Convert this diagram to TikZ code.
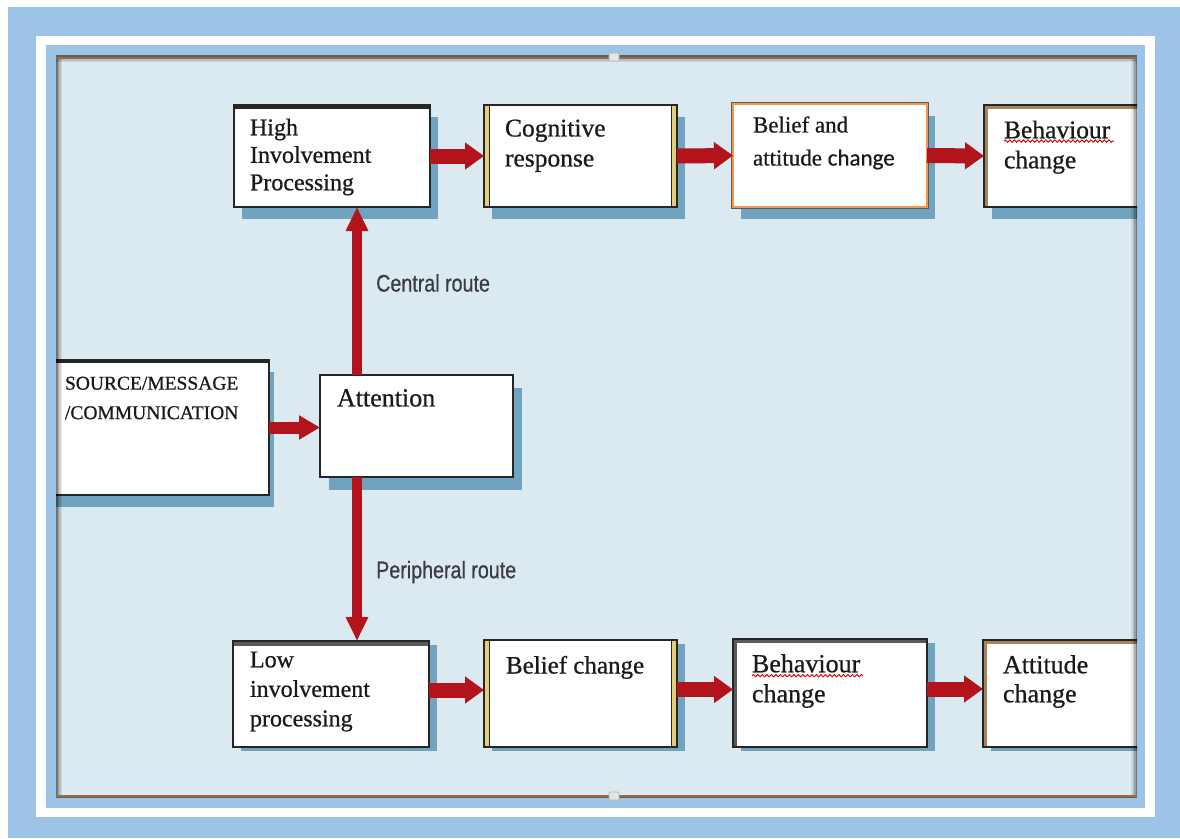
\documentclass[tikz,border=0pt]{standalone}
\usepackage{fontspec}
\setmainfont{Liberation Serif}[FakeBold=0.7]
\newfontfamily\carlitofont{Carlito}[FakeBold=0.5]
\newfontfamily\arialfont{Liberation Sans}[FakeBold=0.6]
\usetikzlibrary{calc,arrows.meta,decorations.pathmorphing,shadows}
\definecolor{outerblue}{HTML}{9DC3E6}
\definecolor{panelc}{HTML}{DBE9F1}
\definecolor{shadowc}{HTML}{6FA3BF}
\definecolor{arrowred}{HTML}{B3131B}
\definecolor{boxline}{HTML}{262626}
\definecolor{goldc}{HTML}{E3CF78}
\definecolor{tanc}{HTML}{A8845E}
\definecolor{greyband}{HTML}{5A5A5A}
\definecolor{orangec}{HTML}{F79646}
\definecolor{edgebrown}{HTML}{9A6A3E}
\definecolor{edgegrey}{HTML}{5E5E5E}
\definecolor{labelc}{HTML}{3C3C3C}
\definecolor{textc}{HTML}{1A1A1A}
\newcommand\bandTL[3]{%
  \fill[#2] ($(#1.north west)+(1.2,1.2)$) rectangle ($(#1.north east)+(-1.2,1.2+#3)$);
  \fill[#2] ($(#1.north west)+(1.2,1.2)$) rectangle ($(#1.south west)+(1.2+#3,-1.2)$);}
\newcommand\bandT[3]{%
  \fill[#2] ($(#1.north west)+(1.2,1.2)$) rectangle ($(#1.north east)+(-1.2,1.2+#3)$);}
\newcommand\goldLR[1]{%
  \fill[goldc] ($(#1.north west)+(1.2,1.2)$) rectangle ($(#1.south west)+(4.8,-1.2)$);
  \draw[boxline,line width=0.8pt] ($(#1.north west)+(5.2,1.2)$) -- ($(#1.south west)+(5.2,-1.2)$);
  \fill[goldc] ($(#1.north east)+(-1.2,1.2)$) rectangle ($(#1.south east)+(-4.8,-1.2)$);
  \draw[boxline,line width=0.8pt] ($(#1.north east)+(-5.2,1.2)$) -- ($(#1.south east)+(-5.2,-1.2)$);}
\tikzset{
  box/.style={draw=boxline, line width=2.6pt, fill=white, inner sep=0pt, outer sep=0pt},
  shtop/.style={general shadow={fill=shadowc, shadow xshift=8pt, shadow yshift=-12pt}},
  shbot/.style={general shadow={fill=shadowc, shadow xshift=8pt, shadow yshift=-4pt}},
  txt/.style={anchor=north west, inner sep=0pt, outer sep=0pt, align=left, text=textc},
  routelbl/.style={anchor=west, inner sep=0pt, text=labelc, font=\arialfont\fontsize{24}{24}\selectfont},
  harrow/.style={draw=arrowred, line width=15pt, -{Triangle[length=19pt 0 0, width=26pt 0 0]}},
  sarrow/.style={draw=arrowred, line width=12pt, -{Triangle[length=21pt 0 0, width=23pt 0 0]}},
  varrow/.style={draw=arrowred, line width=10pt, -{Triangle[length=24pt 0 0, width=21pt 0 0]}},
  squig/.style={draw=red!85!black, line width=0.9pt, decorate, decoration={snake, amplitude=1.2pt, segment length=4.5pt}},
}
\begin{document}
\begin{tikzpicture}[x=1pt,y=-1pt]
\useasboundingbox (0,0) rectangle (1180,838);
% frame
\fill[white] (0,0) rectangle (1180,838);
\fill[outerblue] (8,7) rectangle (1180,838);
\fill[white] (36,36) rectangle (1155,817);
\fill[outerblue] (46,45) rectangle (1145,808);
\fill[panelc] (56,56) rectangle (1137,797);
\begin{scope}
\clip (56,56) rectangle (1137,797);
% boxes
\node[box, shtop, minimum width=196pt, minimum height=102pt] (b1) at (332,156) {};
\node[box, shtop, minimum width=193pt, minimum height=102pt] (b2) at (580.5,156) {};
\node[box, shtop, draw=orangec, line width=2.6pt, preaction={draw=greyband, line width=4.6pt}, minimum width=194pt, minimum height=103pt] (b3) at (830,155.5) {};
\node[box, shtop, minimum width=194pt, minimum height=102pt] (b4) at (1081,156) {};
\node[box, general shadow={fill=shadowc, shadow xshift=5pt, shadow yshift=-12pt}, minimum width=230pt, minimum height=135pt] (src) at (154,427.5) {};
\node[box, general shadow={fill=shadowc, shadow xshift=9pt, shadow yshift=-13pt}, line width=2.9pt, minimum width=193pt, minimum height=102pt] (att) at (416.5,426) {};
\node[box, shbot, minimum width=196pt, minimum height=106pt] (c1) at (331,694) {};
\node[box, shbot, minimum width=193pt, minimum height=107pt] (c2) at (580.5,693.5) {};
\node[box, shbot, minimum width=194pt, minimum height=108pt] (c3) at (830,693) {};
\node[box, shbot, minimum width=194pt, minimum height=107pt] (c4) at (1080,693.5) {};
% bevel details
\bandT{b1}{boxline}{2.5}
\goldLR{b2}
\bandTL{b4}{tanc}{3}
\bandT{src}{boxline}{1.5}
\bandT{c1}{greyband}{3.5}
\goldLR{c2}
\bandTL{c3}{greyband}{3}
\bandTL{c4}{tanc}{3}
% texts
\node[txt, font=\fontsize{24}{27.5}\selectfont] (t1) at (250,118.6) {High\\Involvement\\Processing};
\node[txt, font=\fontsize{25.5}{30}\selectfont] (t2) at (505,119.6) {Cognitive\\response};
\node[txt, font=\fontsize{23}{33}\selectfont] (t3) at (753,116.3) {Belief and\\attitude {\carlitofont change}};
\node[txt, font=\fontsize{25.5}{30}\selectfont] (t4) at (1004,120.6) {Behaviour\\change};
\node[txt, font=\fontsize{19.5}{29.5}\selectfont] (t5) at (65,376.7) {SOURCE/MESSAGE\\/COMMUNICATION};
\node[txt, font=\fontsize{26}{30}\selectfont] (t6) at (337,389.2) {Attention};
\node[txt, font=\fontsize{24}{29.5}\selectfont] (t7) at (250,651.6) {Low\\involvement\\processing};
\node[txt, font=\fontsize{25}{30}\selectfont] (t8) at (506,655.9) {Belief change};
\node[txt, font=\fontsize{26}{30}\selectfont] (t9) at (752,654.2) {Behaviour\\change};
\node[txt, font=\fontsize{26}{29}\selectfont] (t10) at (1003,655.2) {Attitude\\change};
\draw[squig] ($(t4.north west)+(0,20.5)$) -- ++(110,0);
\draw[squig] ($(t9.north west)+(0,21.5)$) -- ++(111,0);
% arrows
\draw[harrow] (b1.east) -- (b2.west);
\draw[harrow] (b2.east) -- (b3.west);
\draw[harrow] (b3.east) -- (b4.west);
\draw[harrow] ([yshift=4pt]c1.east) -- ([yshift=4pt]c1.east -| c2.west);
\draw[harrow] ([yshift=4pt]c2.east) -- ([yshift=4pt]c2.east -| c3.west);
\draw[harrow] ([yshift=4pt]c3.east) -- ([yshift=4pt]c3.east -| c4.west);
\draw[sarrow] (src.east) -- (src.east -| att.west);
\draw[varrow] ([xshift=37pt]att.north west) coordinate (cr) -- (cr |- b1.south);
\draw[varrow] ([xshift=37pt]att.south west) coordinate (pr) -- (pr |- c1.north);
\node[routelbl] (lc) at (376,283) {\scalebox{0.82}[1]{Central route}};
\node[routelbl] (lp) at (376,572) {\scalebox{0.82}[1]{Peripheral route}};
% panel edge shadows
\foreach \i/\o in {0/0.5,1.5/0.32,3/0.18,4.5/0.08} {
  \fill[black,opacity=\o] (56+\i,56) rectangle (57.5+\i,797);
  \fill[black,opacity=\o] (1137-\i,56) rectangle (1135.5-\i,797);
}
\foreach \i/\o in {0/0.18,1.5/0.08} {
  \fill[black,opacity=\o] (56,59+\i) rectangle (1137,60.5+\i);
}
\end{scope}
\fill[edgegrey] (56,55) rectangle (1137,56.5);
\fill[edgebrown] (56,56.5) rectangle (1137,58.5);
\fill[edgebrown] (56,794.5) rectangle (1137,796.5);
\fill[edgegrey] (56,796.5) rectangle (1137,797.5);
\filldraw[fill=gray!20, draw=gray!60, line width=0.6pt, rounded corners=1pt] (609,53) rectangle (619,61);
\filldraw[fill=gray!20, draw=gray!60, line width=0.6pt, rounded corners=1pt] (609,792) rectangle (619,800);
\end{tikzpicture}
\end{document}
